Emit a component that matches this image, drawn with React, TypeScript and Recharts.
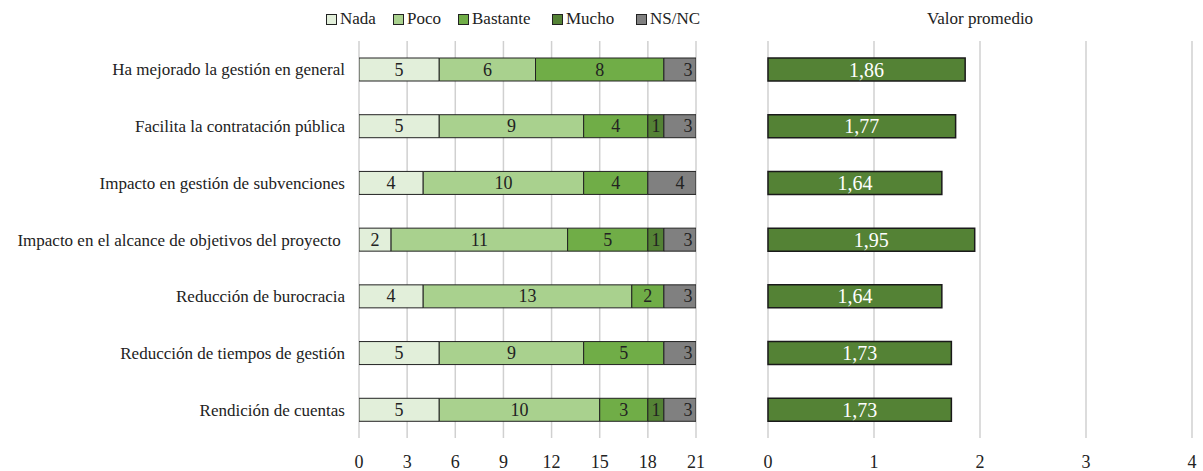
import React from 'react';
import { BarChart, Bar, XAxis, YAxis, CartesianGrid, LabelList } from 'recharts';

const categories = [
  'Ha mejorado la gestión en general',
  'Facilita la contratación pública',
  'Impacto en gestión de subvenciones',
  'Impacto en el alcance de objetivos del proyecto\u00a0',
  'Reducción de burocracia',
  'Reducción de tiempos de gestión',
  'Rendición de cuentas',
];
const nada = [5, 5, 4, 2, 4, 5, 5];
const poco = [6, 9, 10, 11, 13, 9, 10];
const bastante = [8, 4, 4, 5, 2, 5, 3];
const mucho = [0, 1, 0, 1, 0, 0, 1];
const nsnc = [3, 3, 4, 3, 3, 3, 3];
const promedio = [1.86, 1.77, 1.64, 1.95, 1.64, 1.73, 1.73];
const leftTicks = [0, 3, 6, 9, 12, 15, 18, 21];
const rightTicks = [0, 1, 2, 3, 4];

const seriesNames = ['Nada', 'Poco', 'Bastante', 'Mucho', 'NS/NC'];
const seriesKeys = ['nada', 'poco', 'bastante', 'mucho', 'nsnc'];
const seriesColors = ['#E2EFDA', '#A9D18E', '#70AD47', '#548235', '#808080'];
const legendLeft = [326, 393, 458, 552, 636];

const data = categories.map((c, i) => ({
  name: c,
  nada: nada[i] || null,
  poco: poco[i] || null,
  bastante: bastante[i] || null,
  mucho: mucho[i] || null,
  nsnc: nsnc[i] || null,
  promedio: promedio[i],
}));

const FONT = '"Liberation Serif", "Times New Roman", serif';
const FS = 17;

const LEFT_W = 720;
const LEFT_MARGIN = { top: 41, right: 24, bottom: 0, left: 0 };
const LEFT_YAXIS_W = 359;
const LEFT_MAX = 21;
const LEFT_PLOT_W = LEFT_W - LEFT_MARGIN.right - LEFT_MARGIN.left - LEFT_YAXIS_W;

const fmtDec = (v: any) => Number(v).toFixed(2).replace('.', ',');

// Label centred on the full (unclipped) bar length
const OverflowLabel = (props: any) => {
  const { x, y, height, value } = props;
  if (!value) return null;
  const fullW = (Number(value) / LEFT_MAX) * LEFT_PLOT_W;
  return (
    <text
      x={Number(x) + fullW / 2}
      y={Number(y) + Number(height) / 2}
      textAnchor="middle"
      dominantBaseline="central"
      fill="#222"
      fontSize={18}
      fontFamily={FONT}
    >
      {value}
    </text>
  );
};

export default function App() {
  return (
    <div style={{ position: 'absolute', left: 0, top: 0, width: 1203, height: 471, background: '#fff', fontFamily: FONT }}>
      {seriesNames.map((n, i) => (
        <div
          key={n}
          style={{ position: 'absolute', top: 9, left: legendLeft[i], display: 'flex', alignItems: 'center', fontSize: FS, color: '#222', whiteSpace: 'nowrap' }}
        >
          <span style={{ display: 'inline-block', width: 9, height: 9, background: seriesColors[i], border: '1px solid #222', marginRight: 3 }} />
          <span>{n}</span>
        </div>
      ))}
      <div style={{ position: 'absolute', top: 9, left: 880, width: 200, textAlign: 'center', fontSize: FS, color: '#222' }}>
        Valor promedio
      </div>

      <div style={{ position: 'absolute', left: 0, top: 0 }}>
        <BarChart width={LEFT_W} height={471} data={data} layout="vertical" margin={LEFT_MARGIN} barSize={23}>
          <CartesianGrid horizontal={false} vertical={true} stroke="#D0D0D0" strokeWidth={1.5} />
          <XAxis
            type="number"
            domain={[0, LEFT_MAX]}
            ticks={leftTicks}
            allowDataOverflow
            axisLine={false}
            tickLine={false}
            tickSize={0}
            tickMargin={17}
            height={33}
            tick={{ fill: '#222', fontSize: 18, fontFamily: FONT }}
            interval={0}
          />
          <YAxis
            type="category"
            dataKey="name"
            width={LEFT_YAXIS_W}
            axisLine={false}
            tickLine={false}
            tickSize={0}
            tickMargin={14}
            tick={{ fill: '#222', fontSize: FS, fontFamily: FONT }}
            interval={0}
          />
          {seriesKeys.map((k, i) => (
            <Bar key={k} dataKey={k} stackId="a" fill={seriesColors[i]} stroke="#222" strokeWidth={1} isAnimationActive={false}>
              <LabelList dataKey={k} content={OverflowLabel} />
            </Bar>
          ))}
        </BarChart>
      </div>

      <div style={{ position: 'absolute', left: 720, top: 0 }}>
        <BarChart
          width={483}
          height={471}
          data={data}
          layout="vertical"
          margin={{ top: 41, right: 11, bottom: 0, left: 48 }}
          barSize={23}
        >
          <CartesianGrid horizontal={false} vertical={true} stroke="#D0D0D0" strokeWidth={1.5} />
          <XAxis
            type="number"
            domain={[0, 4]}
            ticks={rightTicks}
            axisLine={false}
            tickLine={false}
            tickSize={0}
            tickMargin={17}
            height={33}
            tick={{ fill: '#222', fontSize: 18, fontFamily: FONT }}
            interval={0}
          />
          <YAxis type="category" dataKey="name" hide />
          <Bar dataKey="promedio" fill="#548235" stroke="#1a1a1a" strokeWidth={1.5} isAnimationActive={false}>
            <LabelList dataKey="promedio" position="center" formatter={fmtDec} fill="#fff" fontSize={20} fontFamily={FONT} />
          </Bar>
        </BarChart>
      </div>
    </div>
  );
}
